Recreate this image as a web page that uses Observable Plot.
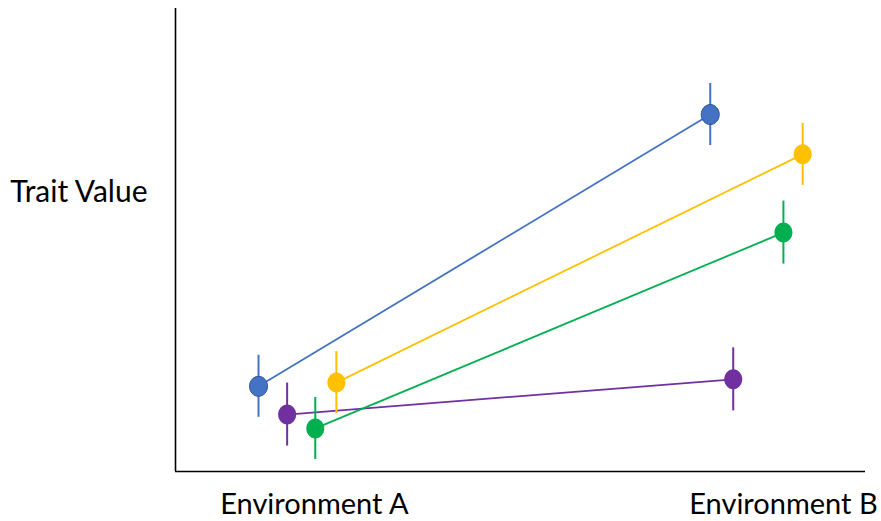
<!DOCTYPE html>
<html>
<head>
<meta charset="utf-8">
<script src="https://cdn.jsdelivr.net/npm/d3@7"></script>
<script src="https://cdn.jsdelivr.net/npm/@observablehq/plot@0.6"></script>
<style>
  html, body { margin: 0; padding: 0; background: #fff; }
  #chart { width: 881px; height: 521px; }
</style>
</head>
<body>
<div id="chart"></div>
<script>
// ---- data ----
const genotypes   = ["G1", "G2", "G3", "G4"];
const colors      = ["#4472C4", "#7030A0", "#00B050", "#FFC000"];
const envLabels   = ["Environment A", "Environment B"];
// horizontal offset of each genotype from its environment (environment units, 0 = A, 1 = B)
const offsetA     = [-0.119, -0.058, 0.002, 0.047];
const offsetB     = [-0.156, -0.107, 0.000, 0.041];
// trait values (arbitrary units, 0 = axis)
const valueA      = [18.4, 12.3, 9.3, 19.2];
const valueB      = [77.1, 19.9, 51.6, 68.5];
const errA        = [6.7, 6.8, 6.7, 6.7];
const errB        = [6.7, 6.8, 6.8, 6.7];
const yLabel      = "Trait Value";
const yLabelAt    = 60.3;

const xDomain = [-0.296, 1.175];
const yDomain = [0, 100];

const points = [];
genotypes.forEach((g, i) => {
  points.push({g, i, env: 0, x: 0 + offsetA[i], y: valueA[i], lo: valueA[i] - errA[i], hi: valueA[i] + errA[i]});
  points.push({g, i, env: 1, x: 1 + offsetB[i], y: valueB[i], lo: valueB[i] - errB[i], hi: valueB[i] + errB[i]});
});
const segs = genotypes.map((g, i) => ({g, i, x1: 0 + offsetA[i], y1: valueA[i], x2: 1 + offsetB[i], y2: valueB[i]}));

// ellipse symbol (slightly taller than wide)
const ellipse = {
  draw(ctx, size) {
    const r = Math.sqrt(size / Math.PI);
    const rx = r * 0.9, ry = r;
    const k = 0.5523;
    ctx.moveTo(rx, 0);
    ctx.bezierCurveTo(rx, ry * k, rx * k, ry, 0, ry);
    ctx.bezierCurveTo(-rx * k, ry, -rx, ry * k, -rx, 0);
    ctx.bezierCurveTo(-rx, -ry * k, -rx * k, -ry, 0, -ry);
    ctx.bezierCurveTo(rx * k, -ry, rx, -ry * k, rx, 0);
    ctx.closePath();
  }
};

const colorOf = d => colors[d.i];

const chart = Plot.plot({
  width: 881,
  height: 521,
  marginLeft: 175,
  marginRight: 16,
  marginTop: 8,
  marginBottom: 50,
  style: {fontFamily: "Lato, 'Open Sans', sans-serif", background: "#fff", color: "#000"},
  x: {domain: xDomain, axis: null},
  y: {domain: yDomain, axis: null},
  marks: [
    Plot.axisX({ticks: [0, 1], tickFormat: d => envLabels[d], tickSize: 0, tickPadding: 22, fontSize: 29, anchor: "bottom"}),
    Plot.ruleX([xDomain[0]], {y1: yDomain[0], y2: yDomain[1], stroke: "#000", strokeWidth: 1.6}),
    Plot.ruleY([yDomain[0]], {x1: xDomain[0], x2: xDomain[1], stroke: "#000", strokeWidth: 1.6}),
    Plot.text([yLabel], {x: xDomain[0], y: yLabelAt, text: d => d, textAnchor: "end", dx: -28, fontSize: 30, fill: "#000"}),
    Plot.link(segs, {x1: "x1", y1: "y1", x2: "x2", y2: "y2", stroke: colorOf, strokeWidth: 1.8}),
    Plot.ruleX(points, {x: "x", y1: "lo", y2: "hi", stroke: colorOf, strokeWidth: 2}),
    Plot.dot(points, {x: "x", y: "y", r: 10, symbol: ellipse, fill: colorOf,
      stroke: d => d.i === 0 ? "#2F528F" : "none", strokeWidth: 1})
  ]
});
document.getElementById("chart").appendChild(chart);
</script>
</body>
</html>
